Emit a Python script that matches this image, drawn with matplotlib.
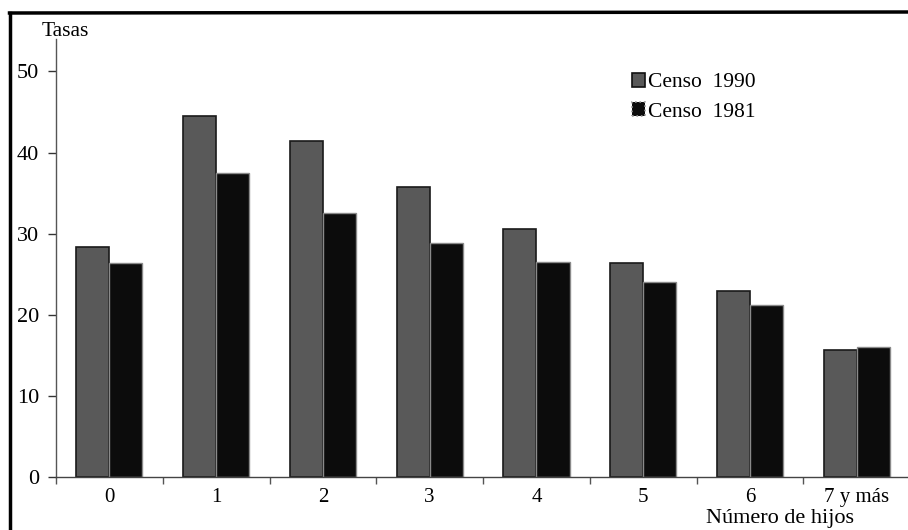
import matplotlib
matplotlib.use("Agg")
import matplotlib.pyplot as plt
from matplotlib.lines import Line2D
from matplotlib.patches import Patch
import numpy as np

categories = ["0", "1", "2", "3", "4", "5", "6", "7 y más"]
censo_1990 = [28.4, 44.5, 41.4, 35.8, 30.6, 26.4, 22.9, 15.7]
censo_1981 = [26.4, 37.5, 32.6, 28.9, 26.5, 24.0, 21.2, 16.0]
yticks = [0, 10, 20, 30, 40, 50]

plt.rcParams['font.family'] = ['Liberation Serif', 'DejaVu Serif']

W, H = 908, 530
fig = plt.figure(figsize=(W / 100, H / 100), dpi=100)
ax = fig.add_axes([56 / W, 1 - 477 / H, 1 - 56 / W, (477 - 39) / H])

x = np.arange(len(categories))
bw = 0.31
c90 = '#595959'
c81 = '#0c0c0c'
ax.bar(x - bw / 2, censo_1990, width=bw, color=c90, edgecolor='#1a1a1a', linewidth=1.2, zorder=2)
ax.bar(x + bw / 2, censo_1981, width=bw, color=c81, edgecolor='#8a8a8a', linewidth=1.0, zorder=2)

ax.set_xlim(-0.5, 7.48)
ax.set_ylim(0, 54)

for s in ['top', 'right']:
    ax.spines[s].set_visible(False)
ax.spines['left'].set_color('#555555')
ax.spines['left'].set_linewidth(1.0)
ax.spines['bottom'].set_color('#444444')
ax.spines['bottom'].set_linewidth(1.0)

ax.set_yticks(yticks)
ax.set_yticklabels([str(v) for v in yticks], fontsize=16)
ax.tick_params(axis='y', direction='out', length=6, width=1, color='#333333', pad=6)

ax.set_xticks(np.arange(-0.5, 7.5, 1.0), minor=False)
ax.set_xticklabels([])
ax.set_xticks(x, minor=True)
ax.set_xticklabels(categories, minor=True, fontsize=15)
ax.tick_params(axis='x', which='major', direction='out', length=5, width=1, color='#555555')
ax.tick_params(axis='x', which='minor', length=0, pad=8)

fig.text(42 / W, 1 - 32 / H, "Tasas", fontsize=15.5, va='center', ha='left')
fig.text(780 / W, 1 - 518 / H, "Número de hijos", fontsize=16, va='center', ha='center')

handles = [Patch(facecolor=c90, edgecolor='#111111', linewidth=1.2, label='Censo  1990'),
           Patch(facecolor=c81, edgecolor='#999999', linewidth=1.2, linestyle=':', label='Censo  1981')]
leg = ax.legend(handles=handles, loc='upper left', bbox_to_anchor=(632 / W, 1 - 73 / H),
                bbox_transform=fig.transFigure, frameon=False, fontsize=15.5,
                handlelength=0.6, handleheight=0.6, handletextpad=0.15,
                labelspacing=0.45, borderaxespad=0, borderpad=0)

# outer frame (left and top edges)
fig.add_artist(Line2D([9.5 / W, 9.5 / W], [0, 1 - 13 / H], transform=fig.transFigure,
                      color='black', linewidth=2.5, solid_capstyle='projecting'))
fig.add_artist(Line2D([9.5 / W, 1.0], [1 - 13 / H, 1 - 12 / H], transform=fig.transFigure,
                      color='black', linewidth=2.5, solid_capstyle='projecting'))

fig.savefig("out.png", dpi=100)
